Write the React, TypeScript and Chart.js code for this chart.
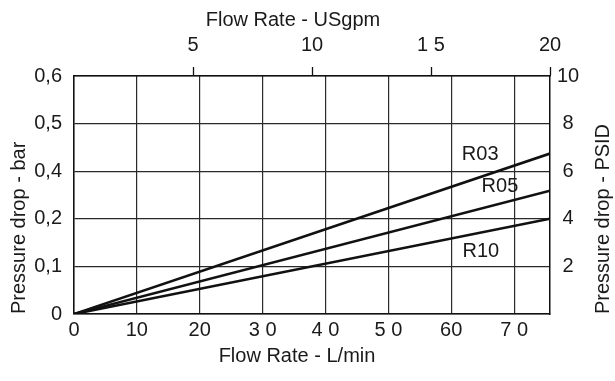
import React, { useEffect, useRef } from "react";
import { Chart, registerables } from "chart.js";

Chart.register(...registerables);

// ---- data ----
const LPM_PER_GPM = 3.78541;
const flowLpm = [0, 75.7];
const r03 = [0, 6.74];
const r05 = [0, 5.18];
const r10 = [0, 4.0];
const seriesNames = ["R03", "R05", "R10"];
// label anchor positions (L/min, PSID)
const labelX = [64.6, 67.75, 64.7];
const labelY = [6.69, 5.37, 2.63];

const bottomTickLabels = ["0", "10", "20", "3 0", "4 0", "5 0", "60", "7 0"];
const topTickLabels = ["", "5", "10", "1 5", "20"];
const leftTickLabels = ["0", "0,1", "0,2", "0,4", "0,5", "0,6"];
const rightTickLabels = ["", "2", "4", "6", "8", "10"];

const FONT = '"Liberation Sans", Arial, sans-serif';
const INK = "#1a1a1a";

const textPlugin = {
  id: "textPlugin",
  afterDraw(chart: any) {
    const { ctx, chartArea, scales } = chart;
    ctx.save();
    ctx.fillStyle = INK;
    ctx.font = `20px ${FONT}`;
    ctx.textBaseline = "middle";
    ctx.textAlign = "center";
    // series labels
    seriesNames.forEach((n, i) => {
      const x = scales.x.getPixelForValue(labelX[i]);
      const y = scales.y.getPixelForValue(labelY[i]);
      ctx.fillText(n, x, y);
    });
    const cx = (chartArea.left + chartArea.right) / 2;
    ctx.fillText("Flow Rate - USgpm", cx - 19, 20);
    ctx.fillText("Flow Rate - L/min", cx - 15, 356);
    // right title
    ctx.translate(603.5, chartArea.bottom);
    ctx.rotate(-Math.PI / 2);
    ctx.textAlign = "left";
    ctx.fillText("Pressure drop - PSID", 0, 0);
    ctx.restore();
  },
};

export default function App() {
  const ref = useRef<HTMLCanvasElement | null>(null);
  useEffect(() => {
    document.body.style.margin = "0";
    const canvas = ref.current!;
    const mk = (d: number[]) => d.map((v, i) => ({ x: flowLpm[i], y: v }));
    const lineDs = (label: string, d: number[]) => ({
      label,
      data: mk(d),
      borderColor: "#111",
      borderWidth: 2.6,
      pointRadius: 0,
      tension: 0,
      xAxisID: "x",
      yAxisID: "y",
    });
    const tickFont = { family: FONT, size: 20 };
    const chart = new Chart(canvas, {
      type: "line",
      data: {
        datasets: [lineDs("R03", r03), lineDs("R05", r05), lineDs("R10", r10)],
      },
      options: {
        animation: false,
        responsive: false,
        layout: { padding: 0 },
        plugins: { legend: { display: false }, tooltip: { enabled: false } },
        scales: {
          x: {
            type: "linear",
            position: "bottom",
            min: 0,
            max: 20 * LPM_PER_GPM,
            afterFit: (s: any) => { s.height = 67; },
            grid: { color: "#2a2a2a", lineWidth: 1.2, drawTicks: false },
            border: { color: "#111", width: 1.5 },
            ticks: {
              stepSize: 10,
              includeBounds: false,
              padding: 4,
              color: INK,
              font: tickFont,
              maxRotation: 0,
              autoSkip: false,
              callback: (_v: any, i: number) => bottomTickLabels[i] ?? "",
            },
          },
          x2: {
            type: "linear",
            position: "top",
            min: 0,
            max: 20,
            afterFit: (s: any) => { s.height = 76; },
            grid: {
              drawOnChartArea: false,
              drawTicks: true,
              tickLength: 9,
              tickWidth: 1.3,
              tickColor: (c: any) => (c.tick && c.tick.value === 0 ? "rgba(0,0,0,0)" : "#111"),
            },
            border: { color: "#111", width: 1.5 },
            ticks: {
              stepSize: 5,
              padding: 10,
              color: INK,
              font: tickFont,
              maxRotation: 0,
              autoSkip: false,
              callback: (_v: any, i: number) => topTickLabels[i] ?? "",
            },
          },
          y: {
            type: "linear",
            position: "left",
            min: 0,
            max: 10,
            afterFit: (s: any) => { s.width = 74; },
            grid: { color: "#2a2a2a", lineWidth: 1.2, drawTicks: false },
            border: { color: "#111", width: 1.5 },
            title: {
              display: true,
              text: "Pressure drop - bar",
              align: "start",
              padding: { top: 7, bottom: 0 },
              color: INK,
              font: { family: FONT, size: 20 },
            },
            ticks: {
              stepSize: 2,
              padding: 12,
              color: INK,
              font: tickFont,
              autoSkip: false,
              callback: (_v: any, i: number) => leftTickLabels[i] ?? "",
            },
          },
          y2: {
            type: "linear",
            position: "right",
            min: 0,
            max: 10,
            afterFit: (s: any) => { s.width = 65; },
            grid: { drawOnChartArea: false, drawTicks: false },
            border: { color: "#111", width: 1.5 },
            ticks: {
              stepSize: 2,
              padding: 7,
              crossAlign: "center",
              color: INK,
              font: tickFont,
              autoSkip: false,
              callback: (_v: any, i: number) => rightTickLabels[i] ?? "",
            },
          },
        },
      } as any,
      plugins: [textPlugin],
    });
    return () => chart.destroy();
  }, []);
  return (
    <canvas
      ref={ref}
      width={615}
      height={381}
      style={{ display: "block", width: 615, height: 381 }}
    />
  );
}
